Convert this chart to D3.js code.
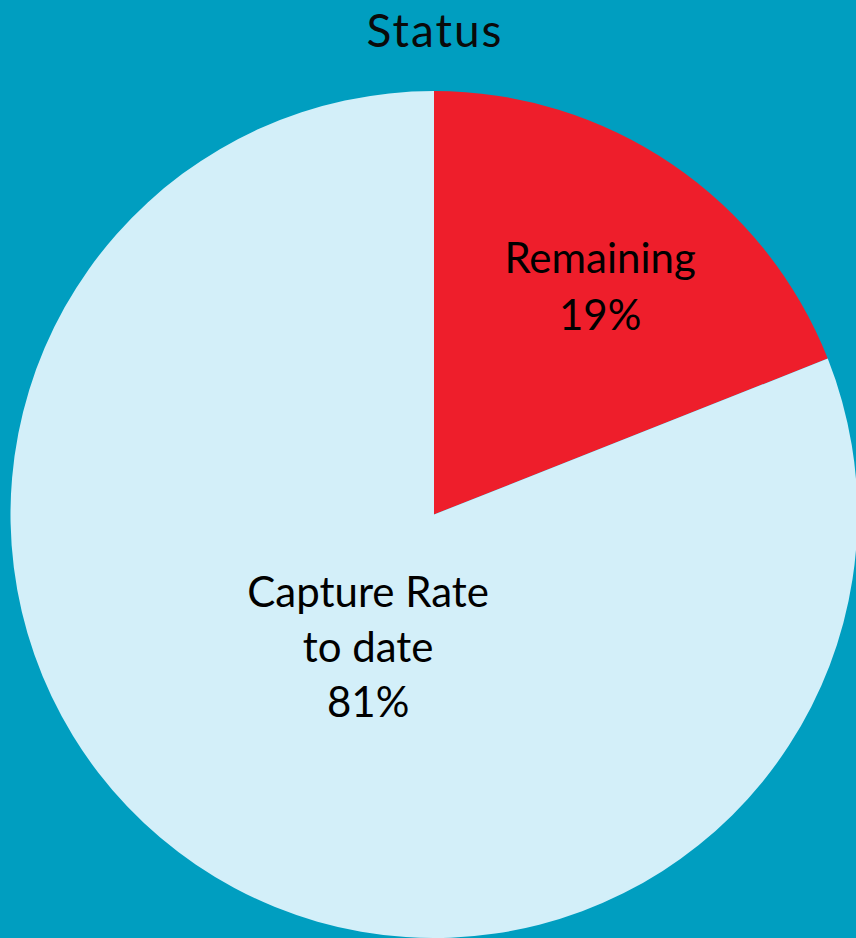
<!DOCTYPE html>
<html>
<head>
<meta charset="utf-8">
<script src="https://cdn.jsdelivr.net/npm/d3@7"></script>
<style>
  html, body { margin: 0; padding: 0; background: #009EC0; }
  svg { display: block; }
</style>
</head>
<body>
<svg id="chart" width="856" height="938"></svg>
<script>
// Status breakdown
const categories = ["Remaining", "Capture Rate to date"];
const labelLines = [["Remaining"], ["Capture Rate", "to date"]];
const values = [19, 81];
const colors = ["#EE1E2B", "#D3EFF9"];
const title = "Status";

const W = 856, H = 938;
const cx = 434, cy = 514.5, R = 423.5;

const svg = d3.select("#chart");

svg.append("rect").attr("width", W).attr("height", H).attr("fill", "#009EC0");

svg.append("text")
  .attr("x", 435).attr("y", 47)
  .attr("text-anchor", "middle")
  .attr("font-family", "Lato, 'Open Sans', sans-serif")
  .attr("font-size", 46)
  .attr("letter-spacing", 2)
  .attr("fill", "#0a0a0a")
  .text(title);

const pie = d3.pie().sort(null).value(d => d)(values);
const arc = d3.arc().innerRadius(0).outerRadius(R);

const g = svg.append("g").attr("transform", `translate(${cx},${cy})`);

g.selectAll("path.slice")
  .data(pie)
  .join("path")
  .attr("class", "slice")
  .attr("d", arc)
  .attr("fill", (d, i) => colors[i]);

// label anchor points (angle in radians from 12 o'clock, distance from centre)
const labelPolar = [
  { a: 0.630, r: 282 },
  { a: 3.603, r: 148 }
];
const lineH = [57, 55];
const fontSize = 42;

pie.forEach((d, i) => {
  const p = labelPolar[i];
  const x = p.r * Math.sin(p.a);
  const y = -p.r * Math.cos(p.a);
  const lines = labelLines[i].concat([values[i] + "%"]);
  const n = lines.length;
  const t = g.append("text")
    .attr("text-anchor", "middle")
    .attr("font-family", "Lato, 'Open Sans', sans-serif")
    .attr("font-size", fontSize)
    .attr("fill", "#000");
  lines.forEach((ln, k) => {
    t.append("tspan")
      .attr("x", x)
      .attr("y", y + (k - (n - 1) / 2) * lineH[i] + fontSize * 0.35)
      .text(ln);
  });
});
</script>
</body>
</html>
